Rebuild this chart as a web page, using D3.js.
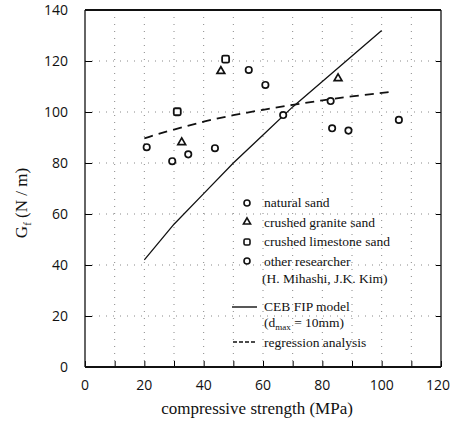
<!DOCTYPE html>
<html>
<head>
<meta charset="utf-8">
<script src="https://cdn.jsdelivr.net/npm/d3@7"></script>
<style>
  body { margin: 0; background: #fff; }
  svg text { fill: #111; }
</style>
</head>
<body>
<div id="chart"></div>
<script>
// data: [compressive strength MPa, Gf N/m]
var naturalSand = [[55.2,116.5],[60.8,110.6],[43.8,85.8],[29.4,80.7],[82.8,104.3],[83.3,93.6],[105.8,96.9],[66.8,98.8]];
var graniteSand = [[45.8,116],[32.6,88.1],[85.3,113.2]];
var limestoneSand = [[47.4,120.7],[31.1,100.1]];
var otherResearch = [[20.8,86.2],[34.8,83.4],[88.8,92.7]];
var cebFip = [[20,42],[30,56],[40,68],[50,80],[60,91],[70,102],[80,112],[90,122],[100,132]];
var regression = [[20,89.7],[30,93.2],[40,96.3],[50,98.8],[60,100.9],[70,102.8],[80,104.6],[90,106.2],[104,108]];
var xTicks = [0,20,40,60,80,100,120];
var yTicks = [0,20,40,60,80,100,120,140];

var width=458, height=429;
var svg=d3.select("#chart").append("svg")
  .attr("width",width).attr("height",height);

var x=d3.scaleLinear().domain([0,120]).range([85,441]);
var y=d3.scaleLinear().domain([0,140]).range([367,10]);

var serif="'Liberation Serif','DejaVu Serif',serif";
var sans="'Open Sans','Liberation Sans',sans-serif";

// dotted grid
var grid=svg.append("g").attr("stroke","#888").attr("stroke-width",1).attr("stroke-dasharray","1,6");
grid.selectAll(".vg").data(d3.range(10,120,10)).enter().append("line")
  .attr("x1",d=>x(d)).attr("x2",d=>x(d)).attr("y1",y(140)).attr("y2",y(0));
grid.selectAll(".hg").data(d3.range(20,140,20)).enter().append("line")
  .attr("x1",x(0)).attr("x2",x(120)).attr("y1",d=>y(d)).attr("y2",d=>y(d));

// axes (ticks pointing inward)
svg.append("g").attr("transform","translate("+x(0)+",0)")
  .call(d3.axisRight(y).tickValues(yTicks).tickSize(7).tickFormat(""))
  .call(g=>g.select(".domain").remove());
svg.append("g").attr("transform","translate("+x(120)+",0)")
  .call(d3.axisLeft(y).tickValues(yTicks).tickSize(5).tickFormat(""))
  .call(g=>g.select(".domain").remove());
svg.append("g").attr("transform","translate(0,"+y(0)+")")
  .call(d3.axisTop(x).tickValues(d3.range(0,121,10)).tickSize(6).tickFormat(""))
  .call(g=>g.select(".domain").remove());

// frame
svg.append("line").attr("x1",x(0)).attr("x2",x(0)).attr("y1",y(140)).attr("y2",y(0)).attr("stroke","#111").attr("stroke-width",1.3);
svg.append("line").attr("x1",x(120)).attr("x2",x(120)).attr("y1",y(140)).attr("y2",y(0)).attr("stroke","#111").attr("stroke-width",1.3);
svg.append("line").attr("x1",x(0)).attr("x2",x(120)).attr("y1",y(140)).attr("y2",y(140)).attr("stroke","#111").attr("stroke-width",2.2);
svg.append("line").attr("x1",x(0)).attr("x2",x(120)).attr("y1",y(0)).attr("y2",y(0)).attr("stroke","#111").attr("stroke-width",2.2);

// tick labels
svg.selectAll(".yl").data(yTicks).enter().append("text")
  .attr("x",68).attr("y",d=>y(d)+5).attr("text-anchor","end")
  .style("font-family",sans).style("font-size","14px").text(d=>d);
svg.selectAll(".xl").data(xTicks).enter().append("text")
  .attr("x",d=>d==120?x(d)-3:x(d)).attr("y",390).attr("text-anchor","middle")
  .style("font-family",sans).style("font-size","14px").text(d=>d);

// axis titles
svg.append("text").attr("x",257).attr("y",414).attr("text-anchor","middle")
  .style("font-family",serif).style("font-size","17px").text("compressive strength (MPa)");
var yt=svg.append("text").attr("transform","translate(27,203) rotate(-90)").attr("text-anchor","middle")
  .style("font-family",serif).style("font-size","17px");
yt.append("tspan").text("G");
yt.append("tspan").attr("dy",4).style("font-size","11px").text("f");
yt.append("tspan").attr("dy",-4).text(" (N / m)");

// lines
var line=d3.line().x(d=>x(d[0])).y(d=>y(d[1]));
svg.append("path").datum(cebFip).attr("d",line).attr("fill","none").attr("stroke","#111").attr("stroke-width",1.3);
svg.append("path").datum(regression).attr("d",d3.line().curve(d3.curveBasis).x(d=>x(d[0])).y(d=>y(d[1])))
  .attr("fill","none").attr("stroke","#111").attr("stroke-width",1.8).attr("stroke-dasharray","9,6");

// markers
function circles(data){
  svg.append("g").selectAll("circle").data(data).enter().append("circle")
    .attr("cx",d=>x(d[0])).attr("cy",d=>y(d[1])).attr("r",3.2)
    .attr("fill","#fff").attr("stroke","#111").attr("stroke-width",1.7);
}
circles(naturalSand);
circles(otherResearch);
svg.append("g").selectAll("path").data(graniteSand).enter().append("path")
  .attr("d",d3.symbol().type(d3.symbolTriangle).size(26))
  .attr("transform",d=>"translate("+x(d[0])+","+y(d[1])+")")
  .attr("fill","#fff").attr("stroke","#111").attr("stroke-width",1.7);
svg.append("g").selectAll("rect").data(limestoneSand).enter().append("rect")
  .attr("x",d=>x(d[0])-3.5).attr("y",d=>y(d[1])-3.5).attr("width",7).attr("height",7).attr("rx",1.5)
  .attr("fill","#fff").attr("stroke","#111").attr("stroke-width",1.8);

// legend
var lg=svg.append("g").style("font-family",serif).style("font-size","13.5px");
lg.append("circle").attr("cx",247).attr("cy",203).attr("r",3).attr("fill","#fff").attr("stroke","#111").attr("stroke-width",1.6);
lg.append("path").attr("d",d3.symbol().type(d3.symbolTriangle).size(22)).attr("transform","translate(247,222)")
  .attr("fill","#fff").attr("stroke","#111").attr("stroke-width",1.6);
lg.append("rect").attr("x",244).attr("y",239).attr("width",6).attr("height",6).attr("rx",1.5).attr("fill","#fff").attr("stroke","#111").attr("stroke-width",1.6);
lg.append("circle").attr("cx",247).attr("cy",261).attr("r",3).attr("fill","#fff").attr("stroke","#111").attr("stroke-width",1.6);
lg.append("line").attr("x1",232).attr("x2",257).attr("y1",307).attr("y2",307).attr("stroke","#111").attr("stroke-width",1.4);
lg.append("line").attr("x1",233).attr("x2",257).attr("y1",342).attr("y2",342).attr("stroke","#111").attr("stroke-width",1.4).attr("stroke-dasharray","4,2");

var labels=[["natural sand",207],["crushed granite sand",227],["crushed limestone sand",246],["other researcher",266],["(H. Mihashi, J.K. Kim)",283],["CEB FIP model",311]];
lg.selectAll(".lt").data(labels).enter().append("text")
  .attr("x",d=>d[0].charAt(0)=="("?262:264).attr("y",d=>d[1]).text(d=>d[0]);
var dm=lg.append("text").attr("x",264).attr("y",327);
dm.append("tspan").text("(d");
dm.append("tspan").attr("dy",3).style("font-size","9px").text("max");
dm.append("tspan").attr("dy",-3).text(" = 10mm)");
lg.append("text").attr("x",264).attr("y",347).text("regression analysis");
</script>
</body>
</html>
